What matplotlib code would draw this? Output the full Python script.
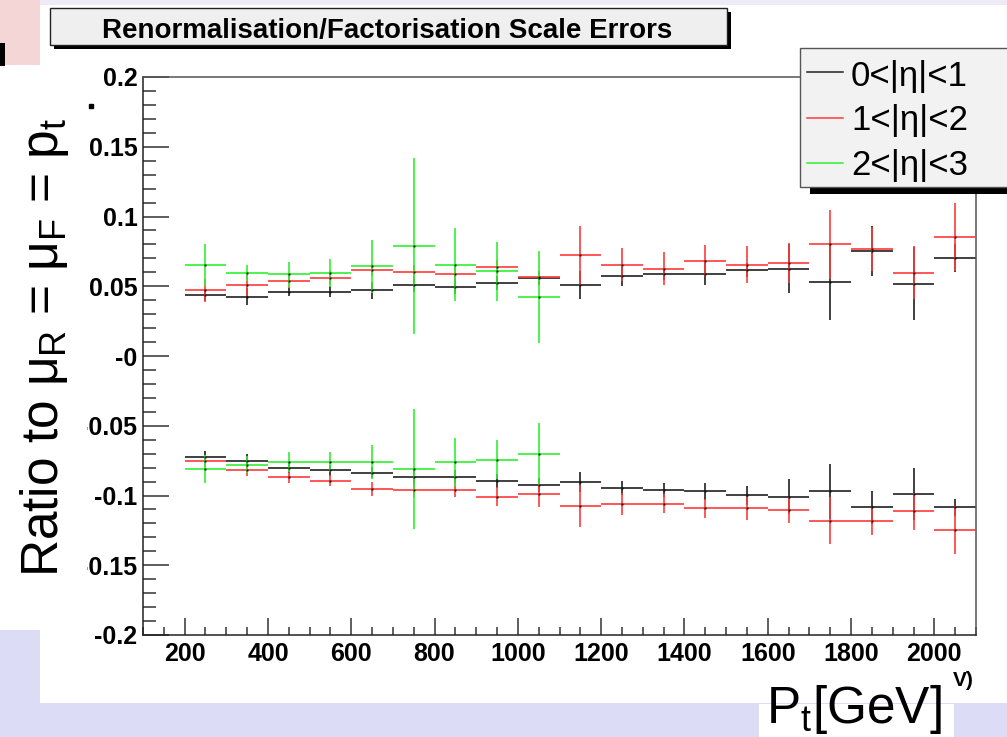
import matplotlib
matplotlib.use("Agg")
import matplotlib.pyplot as plt
from matplotlib.patches import Rectangle
from matplotlib.lines import Line2D
from matplotlib.ticker import FixedLocator, FixedFormatter, MultipleLocator

plt.rcParams['font.family'] = ['Liberation Sans', 'DejaVu Sans']
plt.rcParams['mathtext.fontset'] = 'custom'
plt.rcParams['mathtext.rm'] = 'Liberation Sans'
plt.rcParams['mathtext.it'] = 'Liberation Sans'
plt.rcParams['mathtext.bf'] = 'Liberation Sans:bold'

W, H = 1007, 737

# jet pt bin centres (GeV), 100 GeV wide bins
pt_centres = [250, 350, 450, 550, 650, 750, 850, 950, 1050, 1150,
              1250, 1350, 1450, 1550, 1650, 1750, 1850, 1950, 2050]
pt_fwd = [250, 350, 450, 550, 650, 750, 850, 950, 1050]
bin_width = 100

eta_labels = ['0<|η|<1', '1<|η|<2', '2<|η|<3']
colours = ['#202020', '#ff3b3b', '#2ff02f']

# scale up variation
up_central = [0.0435, 0.0425, 0.046, 0.046, 0.047, 0.051, 0.0495, 0.052, 0.056, 0.051,
              0.057, 0.0588, 0.0588, 0.0616, 0.0626, 0.0533, 0.075, 0.0518, 0.0702]
up_central_err = [0.004, 0.006, 0.003, 0.004, 0.006, 0.005, 0.005, 0.005, 0.005, 0.010,
                  0.007, 0.004, 0.008, 0.005, 0.0176, 0.0275, 0.018, 0.026, 0.010]
up_mid = [0.047, 0.0511, 0.054, 0.056, 0.0616, 0.0605, 0.0588, 0.0636, 0.0569, 0.0722,
          0.0655, 0.0626, 0.0683, 0.0655, 0.0667, 0.080, 0.0767, 0.0597, 0.0853]
up_mid_err = [0.008, 0.008, 0.005, 0.005, 0.004, 0.005, 0.005, 0.005, 0.004, 0.021,
              0.012, 0.012, 0.011, 0.013, 0.0145, 0.025, 0.016, 0.019, 0.0244]
up_fwd = [0.0652, 0.0595, 0.0585, 0.0595, 0.0643, 0.0786, 0.0655, 0.0607, 0.0425]
up_fwd_err = [0.015, 0.006, 0.009, 0.010, 0.019, 0.063, 0.026, 0.021, 0.033]

# scale down variation
dn_central = [-0.0724, -0.0753, -0.080, -0.082, -0.0836, -0.0867, -0.0867, -0.0893, -0.0925, -0.0903,
              -0.0944, -0.096, -0.097, -0.0999, -0.1008, -0.097, -0.1086, -0.0989, -0.1086]
dn_central_err = [0.004, 0.005, 0.004, 0.004, 0.004, 0.005, 0.005, 0.005, 0.005, 0.007,
                  0.005, 0.005, 0.006, 0.007, 0.0127, 0.0196, 0.012, 0.0184, 0.006]
dn_mid = [-0.0753, -0.0817, -0.0867, -0.0893, -0.0953, -0.0958, -0.0958, -0.1008, -0.0992, -0.1075,
          -0.1059, -0.1059, -0.1093, -0.1093, -0.1104, -0.118, -0.118, -0.1114, -0.1246]
dn_mid_err = [0.004, 0.004, 0.004, 0.004, 0.005, 0.005, 0.0055, 0.007, 0.009, 0.015,
              0.008, 0.007, 0.007, 0.0083, 0.009, 0.0167, 0.010, 0.013, 0.017]
dn_fwd = [-0.081, -0.0779, -0.076, -0.076, -0.076, -0.081, -0.076, -0.0745, -0.0703]
dn_fwd_err = [0.010, 0.006, 0.007, 0.007, 0.012, 0.043, 0.0174, 0.014, 0.022]

y_ticks = [-0.2, -0.15, -0.1, -0.05, 0.0, 0.05, 0.1, 0.15, 0.2]
y_tick_labels = ['-0.2', '-0.15', '-0.1', '-0.05', '-0', '0.05', '0.1', '0.15', '0.2']
x_ticks = [200, 400, 600, 800, 1000, 1200, 1400, 1600, 1800, 2000]
x_tick_labels = ['200', '400', '600', '800', '1000', '1200', '1400', '1600', '1800', '2000']


def fx(x):
    return x / W


def fy(y):
    return 1 - y / H


def box(x0, y0, x1, y1, **kw):
    r = Rectangle((fx(x0), fy(y1)), fx(x1) - fx(x0), fy(y0) - fy(y1),
                  transform=fig.transFigure, **kw)
    fig.add_artist(r)
    return r


fig = plt.figure(figsize=(W / 100, H / 100), dpi=100, facecolor='white')

# slide background pieces
box(0, 703, W, H, facecolor='#dcdcf6', edgecolor='none', zorder=-10)
box(0, 630, 40, H, facecolor='#dcdcf6', edgecolor='none', zorder=-10)
box(759, 704, 954, H, facecolor='white', edgecolor='none', zorder=-9)
box(0, 0, W, 5, facecolor='#eeeaf6', edgecolor='none', zorder=-10)
box(0, 0, 40, 65, facecolor='#f4d6d6', edgecolor='none', zorder=-9)
box(0, 43, 5, 66, facecolor='black', edgecolor='none', zorder=-8)

ax = fig.add_axes([fx(143), fy(635), fx(976) - fx(143), fy(77) - fy(635)])
ax.set_xlim(100, 2100)
ax.set_ylim(-0.2, 0.2)

series = [
    (pt_centres, up_central, up_central_err, dn_central, dn_central_err),
    (pt_centres, up_mid, up_mid_err, dn_mid, dn_mid_err),
    (pt_fwd, up_fwd, up_fwd_err, dn_fwd, dn_fwd_err),
]
for i, (xs, up, up_err, dn, dn_err) in enumerate(series):
    for ys, errs in [(up, up_err), (dn, dn_err)]:
        ax.errorbar(xs, ys, xerr=bin_width / 2, yerr=errs, fmt='none',
                    ecolor=colours[i], elinewidth=1.2, capsize=0, zorder=2 + i)
        ax.plot(xs, ys, ls='none', marker='s', ms=1.4, color='#111111',
                mec='none', zorder=5)

ax.yaxis.set_major_locator(FixedLocator(y_ticks))
ax.yaxis.set_major_formatter(FixedFormatter(y_tick_labels))
ax.yaxis.set_minor_locator(MultipleLocator(0.01))
ax.xaxis.set_major_locator(FixedLocator(x_ticks))
ax.xaxis.set_major_formatter(FixedFormatter(x_tick_labels))
ax.xaxis.set_minor_locator(MultipleLocator(50))

ax.tick_params(axis='y', which='major', direction='in', length=18.5, width=1.1,
               color='#333333', pad=4, labelsize=18)
ax.tick_params(axis='y', which='minor', direction='in', length=9, width=1.1, color='#333333')
ax.tick_params(axis='x', which='major', direction='in', length=12, width=1.1,
               color='#333333', pad=5, labelsize=18)
ax.tick_params(axis='x', which='minor', direction='in', length=6, width=1.1, color='#333333')
for lab in ax.get_xticklabels() + ax.get_yticklabels():
    lab.set_fontweight('bold')

for side in ['left', 'bottom']:
    ax.spines[side].set_color('#222222')
    ax.spines[side].set_linewidth(1.1)
for side in ['top', 'right']:
    ax.spines[side].set_color('#555555')
    ax.spines[side].set_linewidth(1.1)

# title box with drop shadow
box(54, 12, 731, 49, facecolor='black', edgecolor='none', zorder=10)
box(50, 8, 727, 45, facecolor='#efefef', edgecolor='#222222', linewidth=1.0, zorder=11)
fig.text(fx(387), fy(38), 'Renormalisation/Factorisation Scale Errors',
         ha='center', va='baseline', fontsize=20, fontweight='bold', zorder=12)

# legend
box(810, 187, 1015, 194, facecolor='black', edgecolor='none', zorder=10)
box(800, 48, 1015, 187, facecolor='#f2f2f2', edgecolor='#555555', linewidth=1.0, zorder=11)
for i, (label, yl, yb) in enumerate(zip(eta_labels, [72, 118, 163], [86, 130, 175])):
    fig.add_artist(Line2D([fx(807), fx(843)], [fy(yl), fy(yl)], color=colours[i],
                          lw=1.1, transform=fig.transFigure, zorder=12))
    fig.text(fx(851), fy(yb), label, ha='left', va='baseline', fontsize=25, zorder=12)

# y title over a white panel
box(0, 110, 87, 605, facecolor='white', edgecolor='none', zorder=5)
fig.text(fx(45), fy(347), r'Ratio to $\mu_\mathrm{R}$ = $\mu_\mathrm{F}$ = $\mathrm{p}_\mathrm{t}$',
         rotation=90, ha='center', va='center', fontsize=37, zorder=6)
fig.add_artist(Line2D([fx(90.5)], [fy(106)], marker='s', ms=2.2, color='black',
                      transform=fig.transFigure, zorder=6))

# x title
fig.text(fx(766), fy(723), r'P$_\mathrm{t}$[GeV]', ha='left', va='baseline',
         fontsize=37, zorder=6)
fig.text(fx(953), fy(686), 'V)', ha='left', va='baseline', fontsize=15,
         fontweight='bold', zorder=6)

fig.savefig('out.png', dpi=100, facecolor=fig.get_facecolor())
